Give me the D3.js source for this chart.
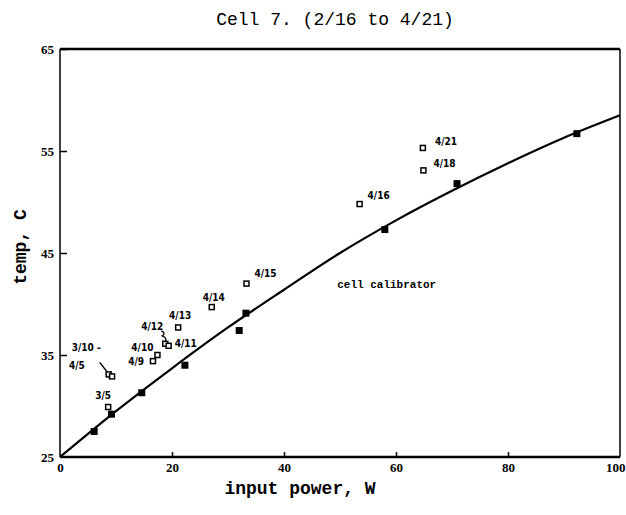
<!DOCTYPE html>
<html>
<head>
<meta charset="utf-8">
<script src="https://cdn.jsdelivr.net/npm/d3@7"></script>
<style>
  body { margin: 0; background: #fff; }
  svg { display: block; }
</style>
</head>
<body>
<div id="chart"></div>
<script>
// calibration line
var curvePower = [0, 10, 20, 30, 40, 50, 60, 70, 80, 90, 100];
var curveTemp  = [25, 29.5, 33.7, 37.7, 41.4, 45.0, 48.2, 51.1, 53.8, 56.3, 58.5];

// cell calibrator points (filled squares)
var calPower = [6.1, 9.2, 14.6, 22.3, 32.0, 33.2, 58.0, 70.9, 92.3];
var calTemp  = [27.5, 29.2, 31.3, 34.0, 37.4, 39.1, 47.3, 51.8, 56.7];

// cell 7 points (open squares), with their dates
var cellDates = ["3/5", "3/10", "4/5", "4/9", "4/10", "4/12", "4/11", "4/13", "4/14", "4/15", "4/16", "4/18", "4/21"];
var cellPower = [8.6, 8.7, 9.3, 16.6, 17.4, 18.8, 19.4, 21.1, 27.1, 33.3, 53.5, 64.9, 64.8];
var cellTemp  = [29.9, 33.1, 32.9, 34.4, 35.0, 36.1, 35.9, 37.7, 39.7, 42.0, 49.8, 53.1, 55.3];

// label text shown beside each open square
var cellLabels = ["3/5", "3/10 -", "4/5", "4/9", "4/10", "4/12", "4/11", "4/13", "4/14", "4/15", "4/16", "4/18", "4/21"];

var xTicks = [0, 20, 40, 60, 80, 100];
var yTicks = [25, 35, 45, 55, 65];

var chartTitle = "Cell 7. (2/16 to 4/21)";
var xTitle = "input power, W";
var yTitle = "temp, C";
var curveName = "cell calibrator";

// label placement (pixels from the square: dx, dy, anchor)
var labelPlace = [
  [-5, -8, "middle"],
  [-37, -23, "start"],
  [-43, -7, "start"],
  [-9, 4, "end"],
  [-4, -4, "end"],
  [-2, -14, "end"],
  [6, 1, "start"],
  [2, -8, "middle"],
  [2, -6, "middle"],
  [8, -7, "start"],
  [8, -5, "start"],
  [10, -3, "start"],
  [12, -3, "start"]
];

var W = 626, H = 515;
var margin = { top: 49, right: 6, bottom: 58, left: 60 },
    width = W - margin.left - margin.right,
    height = H - margin.top - margin.bottom;

var svg = d3.select("#chart")
  .append("svg")
  .attr("width", W)
  .attr("height", H);

var g = svg.append("g")
  .attr("transform", "translate(" + margin.left + "," + margin.top + ")");

var x = d3.scaleLinear().domain([0, 100]).range([0, width]);
var y = d3.scaleLinear().domain([25, 65]).range([height, 0]);

// title
svg.append("text")
  .attr("x", 335)
  .attr("y", 25)
  .attr("text-anchor", "middle")
  .style("font-family", "Liberation Mono, monospace")
  .style("font-size", "18px")
  .text(chartTitle);

// frame: top and bottom heavier
g.append("line").attr("x1", 0).attr("x2", width).attr("y1", 0).attr("y2", 0)
  .attr("stroke", "#000").attr("stroke-width", 2.5);
g.append("line").attr("x1", 0).attr("x2", width).attr("y1", height).attr("y2", height)
  .attr("stroke", "#000").attr("stroke-width", 2.5);
g.append("line").attr("x1", 0).attr("x2", 0).attr("y1", 0).attr("y2", height)
  .attr("stroke", "#000").attr("stroke-width", 1.5);
g.append("line").attr("x1", width).attr("x2", width).attr("y1", 0).attr("y2", height)
  .attr("stroke", "#000").attr("stroke-width", 1.5);

// axes with inward ticks
var xAxis = g.append("g")
  .attr("transform", "translate(0," + height + ")")
  .call(d3.axisBottom(x).tickValues(xTicks).tickSize(-5).tickPadding(6));
var yAxis = g.append("g")
  .call(d3.axisLeft(y).tickValues(yTicks).tickSize(-7).tickPadding(6));

[xAxis, yAxis].forEach(function (a) {
  a.select(".domain").remove();
  a.selectAll(".tick line").attr("stroke", "#000").attr("stroke-width", 1.5);
  a.selectAll(".tick text")
    .style("font-family", "Liberation Serif, serif")
    .style("font-weight", "bold")
    .style("font-size", "13px")
    .attr("fill", "#000");
});
xAxis.selectAll(".tick line").filter(function (d) { return d === 0 || d === 100; }).remove();
yAxis.selectAll(".tick line").filter(function (d) { return d === 25; }).remove();
// keep "100" inside the picture
xAxis.selectAll(".tick text").filter(function (d) { return d === 100; })
  .attr("text-anchor", "end").attr("x", 5);

// axis titles
svg.append("text")
  .attr("x", 300)
  .attr("y", 494)
  .attr("text-anchor", "middle")
  .style("font-family", "Liberation Mono, monospace")
  .style("font-weight", "bold")
  .style("font-size", "18px")
  .text(xTitle);

svg.append("text")
  .attr("transform", "translate(26," + 247 + ") rotate(-90)")
  .attr("text-anchor", "middle")
  .style("font-family", "Liberation Mono, monospace")
  .style("font-weight", "bold")
  .style("font-size", "18px")
  .text(yTitle);

// calibration line
var curveData = curvePower.map(function (p, i) { return { p: p, t: curveTemp[i] }; });
g.append("path")
  .datum(curveData)
  .attr("fill", "none")
  .attr("stroke", "#000")
  .attr("stroke-width", 2.2)
  .attr("d", d3.line()
    .x(function (d) { return x(d.p); })
    .y(function (d) { return y(d.t); })
    .curve(d3.curveMonotoneX));

g.append("text")
  .attr("x", x(49.5))
  .attr("y", y(41.6))
  .style("font-family", "Liberation Mono, monospace")
  .style("font-weight", "bold")
  .style("font-size", "11px")
  .text(curveName);

// filled squares
var calData = calPower.map(function (p, i) { return { p: p, t: calTemp[i] }; });
g.selectAll(".cal")
  .data(calData)
  .enter().append("rect")
  .attr("class", "cal")
  .attr("x", function (d) { return x(d.p) - 3.5; })
  .attr("y", function (d) { return y(d.t) - 3.5; })
  .attr("width", 7)
  .attr("height", 7)
  .attr("fill", "#000");

// open squares
var cellData = cellPower.map(function (p, i) {
  return { p: p, t: cellTemp[i], date: cellDates[i], label: cellLabels[i], place: labelPlace[i] };
});
g.selectAll(".cell")
  .data(cellData)
  .enter().append("rect")
  .attr("class", "cell")
  .attr("x", function (d) { return x(d.p) - 2.5; })
  .attr("y", function (d) { return y(d.t) - 2.5; })
  .attr("width", 5)
  .attr("height", 5)
  .attr("fill", "#fff")
  .attr("stroke", "#000")
  .attr("stroke-width", 1.5);

// hand-written date labels
g.selectAll(".lab")
  .data(cellData)
  .enter().append("text")
  .attr("class", "lab")
  .attr("x", function (d) { return x(d.p) + d.place[0]; })
  .attr("y", function (d) { return y(d.t) + d.place[1]; })
  .attr("text-anchor", function (d) { return d.place[2]; })
  .style("font-family", "DejaVu Sans Condensed, DejaVu Sans, sans-serif")
  .style("font-weight", "bold")
  .style("font-size", "10px")
  .text(function (d) { return d.label; });

// leader from "4/5" to the 3/10-4/5 cluster
var c = cellData[1];
g.append("line")
  .attr("x1", x(c.p) - 9).attr("y1", y(c.t) - 12)
  .attr("x2", x(c.p) - 2).attr("y2", y(c.t) - 3)
  .attr("stroke", "#000").attr("stroke-width", 1.5);

// squiggle from "4/12" to its square
var s = cellData[5];
g.append("path")
  .attr("d", "M" + (x(s.p) - 4) + "," + (y(s.t) - 13) +
    " q5,2 1,5 q5,2 3,5")
  .attr("fill", "none")
  .attr("stroke", "#000")
  .attr("stroke-width", 1.3);
</script>
</body>
</html>
